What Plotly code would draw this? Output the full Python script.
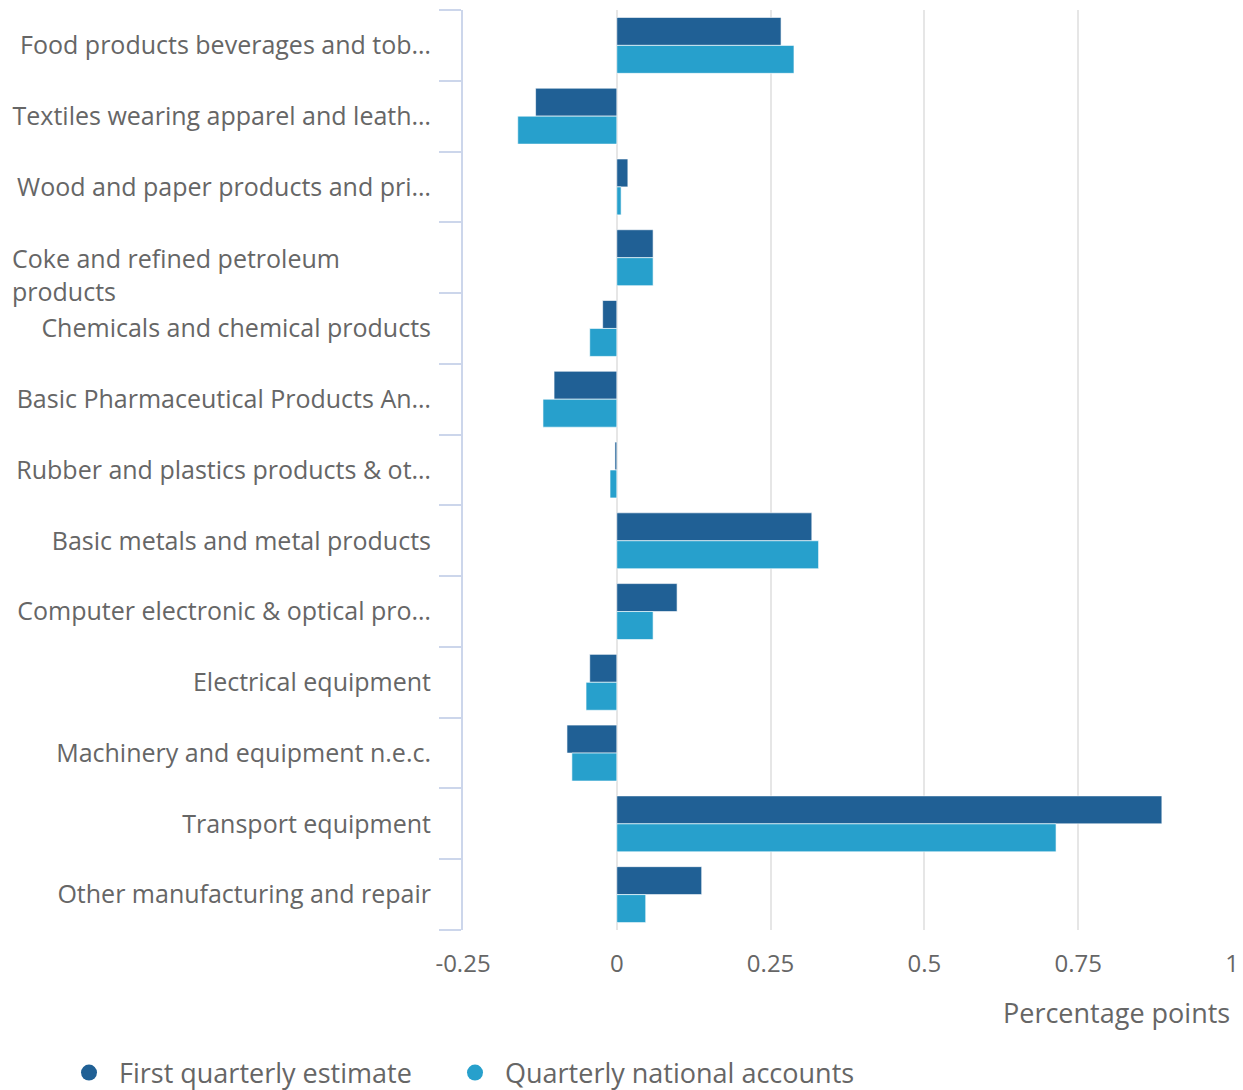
import plotly.graph_objects as go

categories = [
    "Food products beverages and tob…",
    "Textiles wearing apparel and leath…",
    "Wood and paper products and pri…",
    "Coke and refined petroleum<br>products",
    "Chemicals and chemical products",
    "Basic Pharmaceutical Products An…",
    "Rubber and plastics products & ot…",
    "Basic metals and metal products",
    "Computer electronic & optical pro…",
    "Electrical equipment",
    "Machinery and equipment n.e.c.",
    "Transport equipment",
    "Other manufacturing and repair",
]
first_estimate = [0.267, -0.132, 0.018, 0.059, -0.023, -0.102, -0.003, 0.317, 0.098, -0.044, -0.081, 0.886, 0.138]
qna = [0.288, -0.161, 0.007, 0.059, -0.044, -0.120, -0.011, 0.328, 0.059, -0.050, -0.073, 0.714, 0.047]
series_names = ["First quarterly estimate", "Quarterly national accounts"]
colors = ["#206095", "#27a0cc"]
x_ticks = [-0.25, 0, 0.25, 0.5, 0.75, 1]
x_ticktext = ["-0.25", "0", "0.25", "0.5", "0.75", "1"]

FONT = "Open Sans"
GREY = "#666666"

fig = go.Figure()
legend_ids = ["legend", "legend2"]
for name, vals, col, lg in zip(series_names, [first_estimate, qna], colors, legend_ids):
    fig.add_trace(go.Bar(
        y=categories, x=vals, orientation="h", name=name,
        marker=dict(color=col, line=dict(color="rgba(255,255,255,0.6)", width=1)),
        showlegend=False,
    ))
    fig.add_trace(go.Scatter(
        x=[None], y=[None], mode="markers", name=name,
        marker=dict(color=col, size=27, symbol="circle"),
        showlegend=True, legend=lg,
    ))

ticktext = [c if "<br>" not in c else "" for c in categories]

legend_common = dict(orientation="h", xref="container", yref="container",
                     xanchor="left", yanchor="middle", y=(1090 - 1073) / 1090,
                     font=dict(size=27, color=GREY), itemwidth=50, itemsizing="trace",
                     bgcolor="rgba(0,0,0,0)")

fig.update_layout(
    width=1243, height=1090,
    margin=dict(l=463, r=11, t=10, b=160),
    paper_bgcolor="white", plot_bgcolor="white",
    font=dict(family=FONT, color=GREY, size=25),
    barmode="group", bargap=0.21, bargroupgap=0,
    showlegend=True,
    legend=dict(x=59 / 1243, **legend_common),
    legend2=dict(x=445 / 1243, **legend_common),
    xaxis=dict(range=[-0.25, 1.0], tickvals=x_ticks, ticktext=x_ticktext,
               showgrid=True, gridcolor="#e6e6e6", gridwidth=1.5,
               zeroline=True, zerolinecolor="#e6e6e6", zerolinewidth=1.5,
               showline=False, ticks="", tickfont=dict(size=24, color=GREY),
               ticklabelstandoff=17, automargin=False),
    yaxis=dict(categoryorder="array", categoryarray=categories, autorange="reversed",
               tickvals=categories, ticktext=ticktext,
               tickson="boundaries", ticks="outside", ticklen=22, tickcolor="#ccd6eb", tickwidth=2,
               showline=True, linecolor="#ccd6eb", linewidth=2,
               showgrid=False, tickfont=dict(size=25, color=GREY), ticklabelstandoff=25,
               automargin=False),
)

fig.add_annotation(
    x=(10 - 463) / 769, xref="paper", xanchor="left",
    y=categories[3], yref="y", yanchor="middle", yshift=-17,
    text=categories[3], align="left", showarrow=False,
    font=dict(size=25, color=GREY, family=FONT),
)
fig.add_annotation(
    x=1, xref="paper", xanchor="right",
    y=-(1012 - 930) / 920, yref="paper", yanchor="middle",
    text="Percentage points", showarrow=False,
    font=dict(size=27, color=GREY, family=FONT),
)

fig.write_html("out.html", config={"displayModeBar": False},
               post_script="document.body.style.margin='0';")
